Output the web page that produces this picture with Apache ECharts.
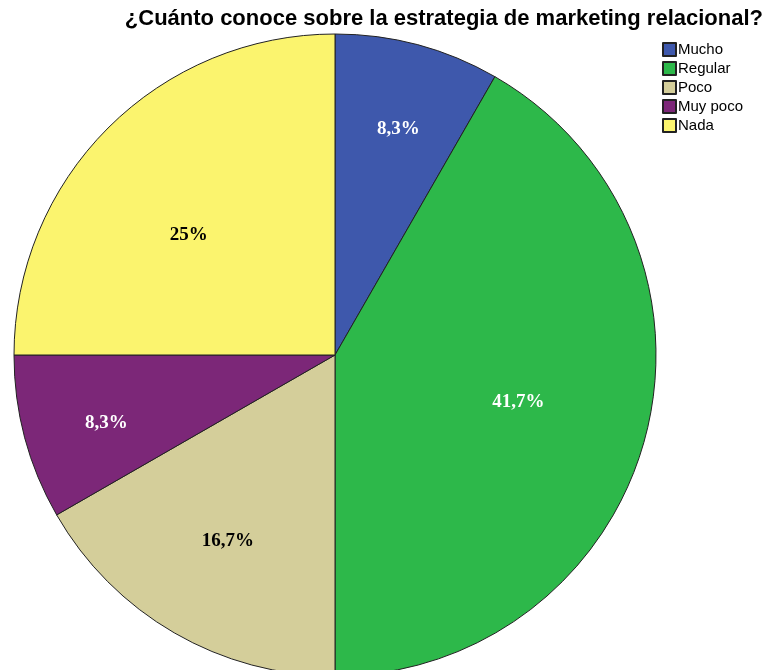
<!DOCTYPE html>
<html>
<head>
<meta charset="utf-8">
<style>
  html, body { margin: 0; padding: 0; background: #ffffff; }
  #chart { width: 766px; height: 670px; }
</style>
<script src="https://cdn.jsdelivr.net/npm/echarts@6/dist/echarts.min.js"></script>
</head>
<body>
<div id="chart"></div>
<script>
// Survey answers and their share of respondents (%)
const categories = ['Mucho', 'Regular', 'Poco', 'Muy poco', 'Nada'];
const percents = [8.3, 41.7, 16.7, 8.3, 25];

// Slice fills and label colours
const sliceColors = ['#3e58ac', '#2db84a', '#d4ce9a', '#7c2778', '#fbf46e'];
const labelColors = ['#ffffff', '#ffffff', '#000000', '#ffffff', '#000000'];
// Label placement: distance from the centre as a fraction of the radius,
// and a small angular nudge (degrees) away from each slice's mid-angle
const labelDist = [0.741, 0.587, 0.661, 0.741, 0.596];
const labelNudge = [-0.5, 1.5, -0.3, 1.0, 4.9];

const cx = 335, cy = 355, radius = 321;

// Mid-angle of every slice (degrees, counter-clockwise from east),
// starting at 12 o'clock and running clockwise
const total = percents.reduce(function (a, b) { return a + b; }, 0);
const midAngles = [];
let acc = 0;
percents.forEach(function (v) {
  midAngles.push(90 - 360 * (acc + v / 2) / total);
  acc += v;
});

const chart = echarts.init(document.getElementById('chart'));

chart.setOption({
  backgroundColor: '#ffffff',
  animation: false,
  title: {
    text: '¿Cuánto conoce sobre la estrategia de marketing relacional?',
    right: -2,
    top: 3,
    textStyle: {
      fontFamily: 'Liberation Sans, Arial, sans-serif',
      fontWeight: 'bold',
      fontSize: 22,
      color: '#000000'
    }
  },
  legend: {
    orient: 'vertical',
    left: 657,
    top: 37,
    icon: 'rect',
    itemWidth: 13,
    itemHeight: 13,
    itemGap: 4,
    selectedMode: false,
    data: categories,
    textStyle: {
      fontFamily: 'Liberation Sans, Arial, sans-serif',
      fontSize: 15,
      color: '#000000',
      padding: [0, 0, 0, -3]
    }
  },
  series: [{
    type: 'pie',
    center: [cx, cy],
    radius: radius,
    startAngle: 90,
    clockwise: true,
    avoidLabelOverlap: false,
    itemStyle: {
      borderColor: '#222222',
      borderWidth: 1
    },
    label: {
      show: true,
      position: 'inside',
      fontFamily: 'Liberation Serif, Times New Roman, serif',
      fontWeight: 'bold',
      fontSize: 19,
      formatter: function (p) {
        return String(p.value).replace('.', ',') + '%';
      }
    },
    labelLayout: function (p) {
      const i = p.dataIndex;
      const a = (midAngles[i] + labelNudge[i]) * Math.PI / 180;
      const d = radius * labelDist[i];
      return {
        x: cx + d * Math.cos(a),
        // digits sit a little below the middle of the text box
        y: cy - d * Math.sin(a) + 3,
        align: 'center',
        verticalAlign: 'middle'
      };
    },
    labelLine: { show: false },
    emphasis: { disabled: true },
    data: categories.map(function (name, i) {
      return {
        name: name,
        value: percents[i],
        itemStyle: { color: sliceColors[i] },
        label: { color: labelColors[i] }
      };
    })
  }]
});
</script>
</body>
</html>
